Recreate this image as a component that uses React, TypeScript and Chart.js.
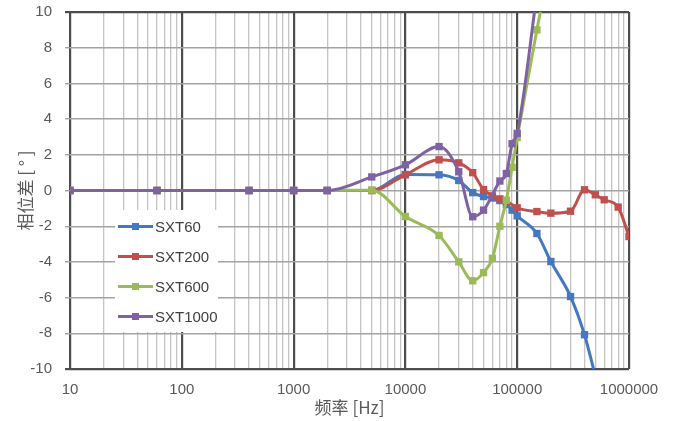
import React, { useEffect, useRef } from "react";
import { Chart, registerables } from "chart.js";

Chart.register(...registerables);

const freq = [10, 60, 400, 1000, 2000, 5000, 10000, 20000, 30000, 40000, 50000, 60000, 70000, 80000, 90000, 100000, 150000, 200000, 300000, 400000, 500000, 600000, 800000, 1000000];

const sxt60 = [0, 0, 0, 0, 0, 0, 0.9, 0.88, 0.56, -0.12, -0.34, -0.42, -0.56, -0.78, -1.1, -1.42, -2.41, -3.98, -5.94, -8.08, -10.4, null, null, null];
const sxt200 = [0, 0, 0, 0, 0, 0, 0.88, 1.72, 1.55, 1.0, 0.05, -0.3, -0.47, -0.6, null, -0.97, -1.18, -1.27, -1.16, 0.04, -0.24, -0.52, -0.93, -2.58];
const sxt600 = [0, 0, 0, 0, 0, 0.02, -1.46, -2.52, -4.0, -5.06, -4.6, -3.8, -2.0, -0.54, 1.3, 2.97, 9.0, 13.0, null, null, null, null, null, null];
const sxt1000 = [0, 0, 0, 0, 0, 0.76, 1.44, 2.46, 1.05, -1.47, -1.1, null, 0.53, 0.95, 2.62, 3.2, 11.0, null, null, null, null, null, null, null];

const seriesNames = ["SXT60", "SXT200", "SXT600", "SXT1000"];
const seriesColors = ["#4478c0", "#c0504d", "#9bbb59", "#7e62a3"];

const xTickLabels = [10, 100, 1000, 10000, 100000, 1000000];
const minorMultipliers = [1, 2, 3, 4, 5, 6, 7, 8, 9];
const yTicks = [-10, -8, -6, -4, -2, 0, 2, 4, 6, 8, 10];

const xTitle = "频率 [Hz]";
const yTitle = "相位差 [ ° ]";

const legendPlugin = {
  id: "insideLegend",
  afterDraw(chart: any) {
    const ctx = chart.ctx;
    const ca = chart.chartArea;
    const bx = ca.left + 45;
    const by = ca.top + 198;
    ctx.save();
    ctx.fillStyle = "#ffffff";
    ctx.fillRect(bx, by, 103, 122);
    const rowY0 = by + 16.5;
    const rowStep = 30;
    seriesNames.forEach((name, i) => {
      const y = rowY0 + i * rowStep;
      ctx.strokeStyle = seriesColors[i];
      ctx.lineWidth = 3;
      ctx.beginPath();
      ctx.moveTo(bx + 3, y);
      ctx.lineTo(bx + 38, y);
      ctx.stroke();
      ctx.fillStyle = seriesColors[i];
      ctx.fillRect(bx + 17, y - 3.5, 7, 7);
      ctx.fillStyle = "#404040";
      ctx.font = "15px 'Liberation Sans', sans-serif";
      ctx.textAlign = "left";
      ctx.textBaseline = "middle";
      ctx.fillText(name, bx + 40, y + 1);
    });
    ctx.restore();
  },
};

export default function App() {
  const ref = useRef<HTMLCanvasElement>(null);
  useEffect(() => {
    if (!ref.current) return;
    const allSeries = [sxt60, sxt200, sxt600, sxt1000];
    const datasets = allSeries.map((vals, i) => ({
      label: seriesNames[i],
      data: freq.map((f, j) => ({ x: f, y: vals[j] })),
      borderColor: seriesColors[i],
      backgroundColor: seriesColors[i],
      borderWidth: 3,
      pointStyle: "rect",
      pointRadius: 5.2,
      pointBorderWidth: 0,
      cubicInterpolationMode: "monotone",
      spanGaps: true,
      order: 3 - i,
    }));
    const chart = new Chart(ref.current, {
      type: "line",
      data: { datasets },
      plugins: [legendPlugin],
      options: {
        animation: false,
        responsive: false,
        layout: { padding: { top: 12, right: 49, left: 0, bottom: 0 } },
        plugins: { legend: { display: false }, tooltip: { enabled: false } },
        scales: {
          x: {
            type: "logarithmic",
            min: 10,
            max: 1000000,
            afterFit: (s: any) => { s.height = 52; s.paddingLeft = 0; s.paddingRight = 0; },
            afterBuildTicks: (s: any) => {
              const t: any[] = [];
              xTickLabels.forEach((d, k) => {
                if (k === xTickLabels.length - 1) { t.push({ value: d }); return; }
                minorMultipliers.forEach((m) => t.push({ value: d * m }));
              });
              s.ticks = t;
            },
            ticks: {
              autoSkip: false,
              maxRotation: 0,
              padding: 12,
              color: "#595959",
              font: { family: "'Liberation Sans', sans-serif", size: 15 },
              callback: (v: any) => (xTickLabels.includes(Number(v)) ? String(v) : ""),
            },
            grid: {
              drawTicks: false,
              color: (c: any) => (c.tick && xTickLabels.includes(c.tick.value) ? "#4d4d4d" : "#c4c4c4"),
              lineWidth: (c: any) => (c.tick && xTickLabels.includes(c.tick.value) ? 2.2 : 1.3),
            },
            border: { display: false },
            title: {
              display: true,
              text: xTitle,
              color: "#595959",
              font: { family: "'Noto Sans CJK SC', sans-serif", size: 17 },
              padding: { top: 0, bottom: 3 },
            },
          },
          y: {
            min: -10,
            max: 10,
            afterFit: (s: any) => { s.width = 70; s.paddingTop = 0; s.paddingBottom = 0; },
            afterBuildTicks: (s: any) => { s.ticks = yTicks.map((v) => ({ value: v })); },
            ticks: {
              padding: 13,
              color: "#595959",
              font: { family: "'Liberation Sans', sans-serif", size: 15 },
            },
            grid: {
              tickLength: 5,
              color: (c: any) => (c.tick && Math.abs(c.tick.value) === 10 ? "#4d4d4d" : "#a3a3a3"),
              lineWidth: (c: any) => (c.tick && Math.abs(c.tick.value) === 10 ? 2.2 : 1.4),
            },
            border: { display: false },
            title: {
              display: true,
              text: yTitle,
              color: "#595959",
              font: { family: "'Noto Sans CJK SC', sans-serif", size: 17 },
              padding: { top: 15, bottom: 0 },
            },
          },
        },
      },
    } as any);
    return () => chart.destroy();
  }, []);
  return (
    <div style={{ position: "absolute", left: 0, top: 0, width: 678, height: 421, background: "#fff" }}>
      <canvas ref={ref} width={678} height={421} />
    </div>
  );
}
